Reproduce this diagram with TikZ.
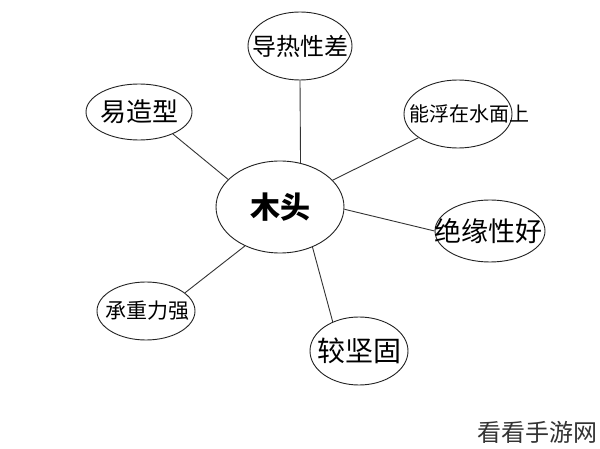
\documentclass[tikz,border=0pt]{standalone}
\usepackage{fontspec}
\setmainfont{Noto Sans CJK SC}
\usetikzlibrary{shapes.geometric}
\definecolor{ink}{HTML}{222222}
\definecolor{wline}{HTML}{333333}
\tikzset{
  bub/.style={ellipse, draw=ink, line width=0.9pt, inner sep=0pt, fill=white},
  conn/.style={draw=wline, line width=0.9pt},
}
\newcommand{\zt}[2][0pt]{\makebox[0pt][c]{\hspace*{#1}#2}}
\begin{document}
\begin{tikzpicture}[x=1pt,y=-1pt]
\useasboundingbox[fill=white] (0,0) rectangle (600,449);
\node[bub, minimum width=128pt, minimum height=92pt, font=\fontsize{30}{30}\selectfont\bfseries] (mutou) at (280,207) {\zt{木头}};
\node[bub, minimum width=104pt, minimum height=68pt, font=\fontsize{24}{24}\selectfont] (daore) at (300,46) {\zt{导热性差}};
\node[bub, minimum width=108pt, minimum height=68pt, font=\fontsize{20}{20}\selectfont] (fu) at (458,114) {\zt[22pt]{能浮在水面上}};
\node[bub, minimum width=106pt, minimum height=56pt, font=\fontsize{26}{26}\selectfont] (zao) at (139,112) {\zt{易造型}};
\node[bub, minimum width=110pt, minimum height=62pt, font=\fontsize{27}{27}\selectfont] (jue) at (490,231) {\zt[-4pt]{绝缘性好}};
\node[bub, minimum width=98pt, minimum height=58pt, font=\fontsize{21}{21}\selectfont] (cheng) at (146,311) {\zt[2pt]{承重力强}};
\node[bub, minimum width=98pt, minimum height=68pt, font=\fontsize{28}{28}\selectfont] (jian) at (359,351) {\zt{较坚固}};
\path[conn] (daore.south) -- (mutou.65);
\path[conn] (fu.211) -- (mutou.27);
\path[conn] (zao.327) -- (mutou.152);
\path[conn] (jue.180) -- (mutou.-2);
\path[conn] (cheng.25) -- (mutou.228);
\path[conn] (jian.132) -- (mutou.309);
\node[font=\fontsize{24}{24}\selectfont, text=wline, inner sep=0pt] (wm) at (537,432) {看看手游网};
\end{tikzpicture}
\end{document}
